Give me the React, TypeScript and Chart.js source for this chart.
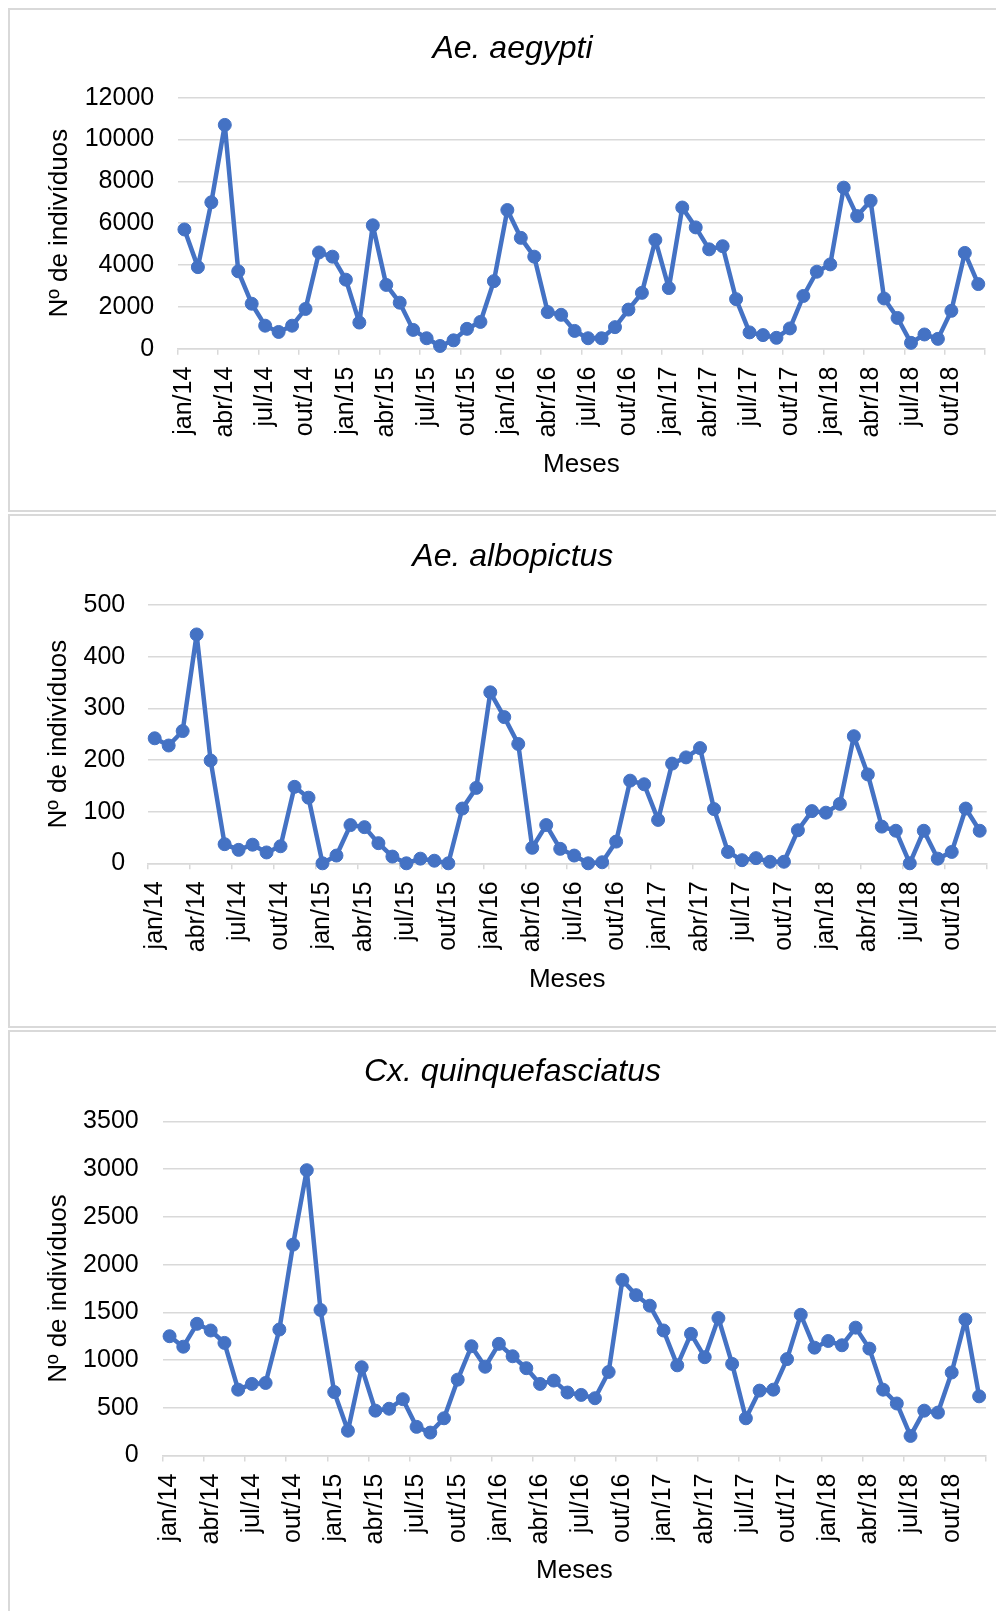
import React, { useEffect, useRef } from 'react';
import { Chart, registerables } from 'chart.js';

Chart.register(...registerables);

const FONT = "'Liberation Sans', Arial, sans-serif";

const MONTHS = ['jan', 'fev', 'mar', 'abr', 'mai', 'jun', 'jul', 'ago', 'set', 'out', 'nov', 'dez'];
const YEARS = ['14', '15', '16', '17', '18'];
const CATEGORIES = YEARS.flatMap((y) => MONTHS.map((m) => `${m}/${y}`));

const AEGYPTI = [
  5700, 3900, 7000, 10700, 3700, 2150, 1100, 800, 1100, 1900, 4600, 4400,
  3300, 1250, 5900, 3050, 2200, 900, 500, 130, 400, 950, 1280, 3230,
  6630, 5300, 4400, 1750, 1620, 850, 500, 500, 1030, 1870, 2670, 5200,
  2900, 6750, 5800, 4750, 4900, 2370, 780, 650, 520, 970, 2520, 3680,
  4030, 7700, 6340, 7070, 2400, 1470, 280, 680, 470, 1810, 4580, 3090,
];

const ALBOPICTUS = [
  242, 228, 256, 443, 199, 37, 26, 36, 21, 33, 148, 127,
  0, 15, 74, 70, 39, 13, 0, 9, 5, 0, 106, 146,
  331, 283, 231, 30, 74, 28, 15, 0, 2, 42, 160, 153,
  84, 193, 205, 223, 105, 22, 6, 10, 3, 3, 64, 101,
  98, 115, 246, 172, 71, 63, 0, 63, 9, 22, 106, 63,
];

const QUINQUEFASCIATUS = [
  1250, 1140, 1380, 1310, 1180, 690, 750, 760, 1320, 2210, 2990, 1525,
  665, 260, 925, 470, 490, 590, 300, 240, 390, 795, 1145, 930,
  1170, 1040, 915, 750, 785, 660, 635, 600, 875, 1840, 1680, 1570,
  1310, 945, 1275, 1030, 1440, 960, 390, 680, 690, 1010, 1475, 1130,
  1200, 1155, 1340, 1120, 690, 545, 205, 470, 450, 870, 1425, 620,
];

const X_TITLE = 'Meses';
const Y_TITLE = 'Nº de indivíduos';

type Cfg = {
  title: string;
  data: number[];
  yMax: number;
  yStep: number;
  boxTop: number;
  boxHeight: number;
  padL: number;
  padR: number;
  titleTop: number;
  titleBottom: number;
  yWidth: number;
  yTickPad: number;
  xHeight: number;
  xTitleBottom: number;
};

const CHARTS: Cfg[] = [
  {
    title: 'Ae. aegypti', data: AEGYPTI, yMax: 12000, yStep: 2000,
    boxTop: 0, boxHeight: 504, padL: 30, padR: 29, titleTop: 19.8, titleBottom: 29.5,
    yWidth: 137.7, yTickPad: 23.5, xHeight: 161.3, xTitleBottom: 30,
  },
  {
    title: 'Ae. albopictus', data: ALBOPICTUS, yMax: 500, yStep: 100,
    boxTop: 506, boxHeight: 514, padL: 29, padR: 27.3, titleTop: 21.5, titleBottom: 29.1,
    yWidth: 108.7, yTickPad: 22.5, xHeight: 162.7, xTitleBottom: 30.4,
  },
  {
    title: 'Cx. quinquefasciatus', data: QUINQUEFASCIATUS, yMax: 3500, yStep: 500,
    boxTop: 1022, boxHeight: 589, padL: 29, padR: 28, titleTop: 20.8, titleBottom: 30.3,
    yWidth: 123.7, yTickPad: 24, xHeight: 161.5, xTitleBottom: 30.4,
  },
];

const GRID = '#d9d9d9';
const BLUE = '#4472C4';

function LineChart({ cfg }: { cfg: Cfg }) {
  const ref = useRef<HTMLCanvasElement | null>(null);
  useEffect(() => {
    if (!ref.current) return;
    const chart = new Chart(ref.current, {
      type: 'line',
      data: {
        labels: CATEGORIES,
        datasets: [
          {
            data: cfg.data,
            borderColor: BLUE,
            backgroundColor: BLUE,
            borderWidth: 4.5,
            borderJoinStyle: 'round',
            pointRadius: 6.5,
            pointBackgroundColor: BLUE,
            pointBorderColor: BLUE,
            pointBorderWidth: 1,
            tension: 0,
            clip: false,
          } as any,
        ],
      },
      options: {
        animation: false,
        responsive: false,
        layout: { padding: { left: cfg.padL, right: cfg.padR, top: 0, bottom: 0 } },
        plugins: {
          legend: { display: false },
          tooltip: { enabled: false },
          title: {
            display: true,
            text: cfg.title,
            color: '#000',
            font: { family: FONT, size: 32, style: 'italic', weight: 'normal' },
            padding: { top: cfg.titleTop, bottom: cfg.titleBottom },
          },
        },
        scales: {
          x: {
            type: 'category',
            offset: true,
            grid: {
              display: true,
              offset: true,
              drawOnChartArea: false,
              drawTicks: true,
              tickLength: 6,
              lineWidth: 1.5,
              color: (ctx: any) =>
                ctx.type !== 'tick' || ctx.index % 3 === 0 ? GRID : 'rgba(0,0,0,0)',
            },
            border: { display: true, color: GRID, width: 1.5 },
            ticks: {
              autoSkip: false,
              maxRotation: 90,
              minRotation: 90,
              padding: 12,
              color: '#000',
              font: { family: FONT, size: 25 },
              callback: (_v: any, index: number) => (index % 3 === 0 ? CATEGORIES[index] : ''),
            },
            title: {
              display: true,
              text: X_TITLE,
              color: '#000',
              font: { family: FONT, size: 26 },
              padding: { top: 0, bottom: cfg.xTitleBottom },
            },
            afterFit: (s: any) => {
              s.height = cfg.xHeight;
              s.paddingLeft = 0;
              s.paddingRight = 0;
            },
          } as any,
          y: {
            min: 0,
            max: cfg.yMax,
            ticks: {
              stepSize: cfg.yStep,
              padding: cfg.yTickPad,
              color: '#000',
              font: { family: FONT, size: 25 },
              callback: (v: any) => String(v),
            },
            grid: { color: GRID, lineWidth: 1.5, drawTicks: false },
            border: { display: false },
            title: {
              display: true,
              text: Y_TITLE,
              color: '#000',
              font: { family: FONT, size: 26 },
              padding: { top: 4, bottom: 0 },
            },
            afterFit: (s: any) => {
              s.width = cfg.yWidth;
            },
          } as any,
        },
      },
    });
    return () => chart.destroy();
  }, [cfg]);

  return (
    <div
      style={{
        position: 'absolute',
        left: 0,
        top: cfg.boxTop,
        width: 1008,
        height: cfg.boxHeight,
        border: `2px solid ${GRID}`,
        boxSizing: 'border-box',
        background: '#fff',
      }}
    >
      <canvas
        ref={ref}
        width={1004}
        height={cfg.boxHeight - 4}
        style={{ display: 'block', width: 1004, height: cfg.boxHeight - 4 }}
      />
    </div>
  );
}

export default function App() {
  useEffect(() => {
    document.documentElement.style.overflow = 'hidden';
  }, []);
  return (
    <div style={{ position: 'relative', width: 996, height: 1603, overflow: 'hidden' }}>
      {CHARTS.map((c) => (
        <LineChart key={c.title} cfg={c} />
      ))}
    </div>
  );
}
